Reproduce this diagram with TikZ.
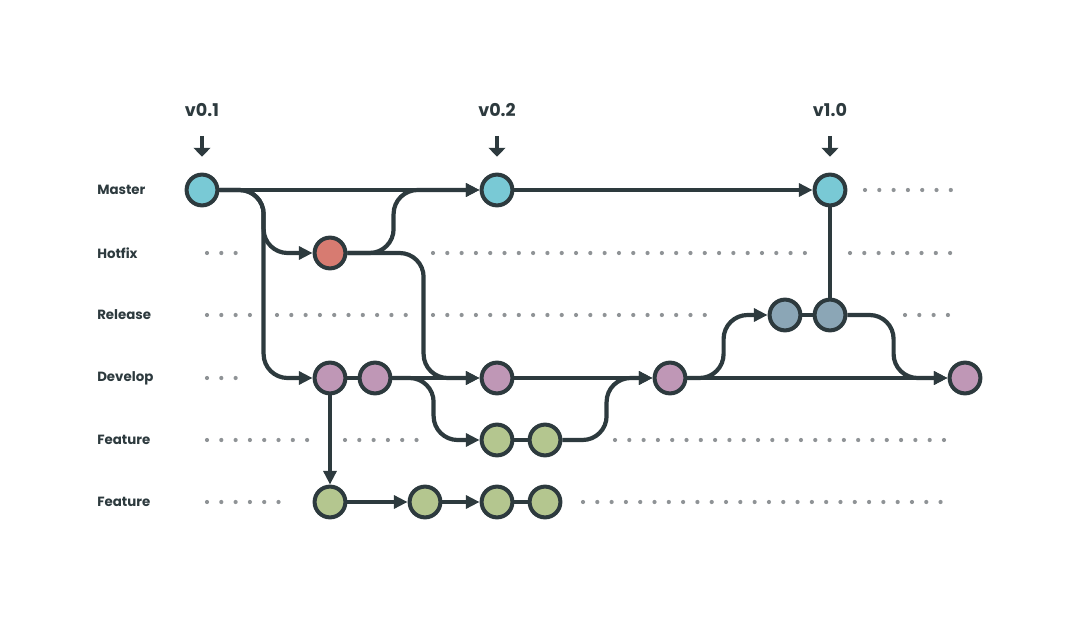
\documentclass[tikz,border=0pt]{standalone}
\usepackage{fontspec}
\setmainfont{Poppins}
\usepackage{xcolor}
\usetikzlibrary{arrows.meta, positioning, calc}
\definecolor{ink}{HTML}{2D3A3E}
\definecolor{dotgray}{HTML}{8F9396}
\definecolor{mastercol}{HTML}{79C9D5}
\definecolor{hotfixcol}{HTML}{D77B71}
\definecolor{releasecol}{HTML}{8BA6B6}
\definecolor{developcol}{HTML}{BF97B6}
\definecolor{featurecol}{HTML}{B4C68F}

\begin{document}
\begin{tikzpicture}[
  x=0.025cm, y=-0.025cm,
  commit/.style   = {circle, draw=ink, line width=0.1cm, minimum size=0.77cm,
                     inner sep=0pt},
  mastercommit/.style  = {commit, fill=mastercol},
  hotfixcommit/.style  = {commit, fill=hotfixcol},
  releasecommit/.style = {commit, fill=releasecol},
  developcommit/.style = {commit, fill=developcol},
  featurecommit/.style = {commit, fill=featurecol},
  lane/.style     = {anchor=west, font=\fontsize{9.5}{11}\selectfont\bfseries,
                     text=ink, inner sep=0pt},
  tag/.style      = {font=\fontsize{12.5}{14}\selectfont\bfseries, text=ink,
                     inner sep=0pt},
  link/.style     = {ink, line width=0.105cm},
  merge/.style    = {link, -{Triangle[length=0.34cm, width=0.32cm]}},
  curved/.style   = {rounded corners=0.6cm},
  tagarrow/.style = {ink, line width=0.1cm, -{Triangle[length=0.22cm, width=0.42cm]}},
  guide/.style    = {dotgray, line width=0.105cm, line cap=round,
                     dash pattern=on 0pt off 0.3575cm}
]
\useasboundingbox (0,0) rectangle (1081,624);

% lane labels
\node[lane] (lmaster)  at (97,190) {Master};
\node[lane] (lhotfix)  at (97,253) {Hotfix};
\node[lane] (lrelease) at (97,315) {Release};
\node[lane] (ldevelop) at (97,378) {Develop};
\node[lane] (lfeatA)   at (97,440) {Feature};
\node[lane] (lfeatB)   at (97,502) {Feature};

% dotted lane guides
\foreach \y/\a/\b in {190/865/952, 253/207/237, 253/433/809, 253/850/952,
                      315/207/250, 315/277/406, 315/433/718, 315/905/952,
                      378/207/247, 440/207/318, 440/345/429, 440/615/952,
                      502/207/290, 502/583/952}
  \draw[guide] (\a,\y) -- (\b,\y);

% commits
\node[mastercommit]  (M1) at (202,190) {};
\node[mastercommit]  (M2) at (497,190) {};
\node[mastercommit]  (M3) at (830,190) {};
\node[hotfixcommit]  (H1) at (330,253) {};
\node[releasecommit] (R1) at (785,315) {};
\node[releasecommit] (R2) at (830,315) {};
\node[developcommit] (D1) at (330,378) {};
\node[developcommit] (D2) at (375,378) {};
\node[developcommit] (D3) at (497,378) {};
\node[developcommit] (D4) at (670,378) {};
\node[developcommit] (D5) at (965,378) {};
\node[featurecommit] (FA1) at (497,440) {};
\node[featurecommit] (FA2) at (545,440) {};
\node[featurecommit] (FB1) at (330,502) {};
\node[featurecommit] (FB2) at (425,502) {};
\node[featurecommit] (FB3) at (497,502) {};
\node[featurecommit] (FB4) at (545,502) {};

% version tags
\node[tag] (v01) at (202,110) {v0.1};
\node[tag] (v02) at (497,110) {v0.2};
\node[tag] (v10) at (830,110) {v1.0};
\foreach \t/\c in {v01/M1, v02/M2, v10/M3}
  \draw[tagarrow] ($(\t.south)+(0,19)$) -- ($(\c.north)+(0,-16)$);

% history
\draw[merge] (M1) -- (M2);
\draw[merge] (M2) -- (M3);
\draw[merge, curved] (M1.east) -| ($(D1.west)+(-49,0)$) -- (D1.west);
\draw[merge, curved] (M1.east) -| ($(H1.west)+(-49,0)$) -- (H1.west);
\draw[merge, curved] (H1.east) -| ($(M2.west)+(-86,0)$) -- (M2.west);
\draw[merge, curved] (H1.east) -| ($(D3.west)+(-56,0)$) -- (D3.west);
\draw[link] (D1) -- (D2);
\draw[merge] (D2) -- (D3);
\draw[merge, curved] (D2.east) -| ($(FA1.west)+(-46,0)$) -- (FA1.west);
\draw[merge] (D1) -- (FB1);
\draw[link] (FA1) -- (FA2);
\draw[merge, curved] (FA2.east) -| ($(D4.west)+(-46,0)$) -- (D4.west);
\draw[merge] (D3) -- (D4);
\draw[merge] (D4) -- (D5);
\draw[merge, curved] (D4.east) -| ($(R1.west)+(-44,0)$) -- (R1.west);
\draw[link] (R1) -- (R2);
\draw[link] (R2) -- (M3);
\draw[merge, curved] (R2.east) -| ($(D5.west)+(-54,0)$) -- (D5.west);
\draw[merge] (FB1) -- (FB2);
\draw[merge] (FB2) -- (FB3);
\draw[link] (FB3) -- (FB4);
\end{tikzpicture}
\end{document}
